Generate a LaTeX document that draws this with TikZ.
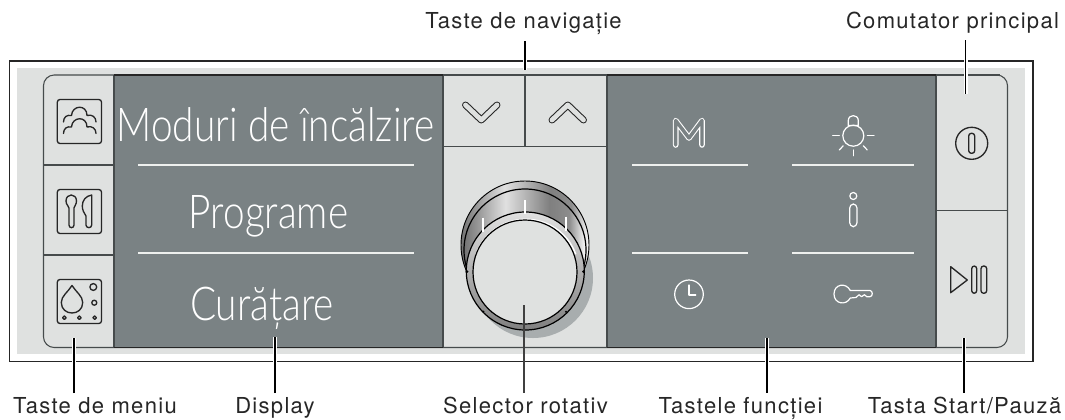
\documentclass[tikz,border=0pt]{standalone}
\usepackage{fontspec}
\setmainfont{TeX Gyre Heros}
\newfontfamily\labelfont[LetterSpace=6]{TeX Gyre Heros}
\newfontfamily\dispfont[FakeStretch=0.83,UprightFont=* Light]{Lato}
\usepackage{xcolor}
\definecolor{panelLight}{RGB}{223, 225, 224}
\definecolor{panelDark}{RGB}{122, 130, 132}
\definecolor{edgeGray}{RGB}{70, 75, 76}
\definecolor{shadowGray}{RGB}{168, 173, 174}
\definecolor{lineWhite}{RGB}{238, 240, 238}
\pgfdeclarehorizontalshading{knobBand}{100bp}{
  color(0bp)=(black!55); color(25bp)=(black!55); color(42bp)=(black!12);
  color(60bp)=(black!50); color(68bp)=(black!45); color(75bp)=(white); color(100bp)=(white)}
\begin{document}
\begin{tikzpicture}[x=0.75pt, y=-0.75pt,
    every node/.style={inner sep=0pt},
    callout/.style={font=\labelfont\fontsize{16.5}{18}\selectfont, text=black!85, inner xsep=3pt, anchor=base},
    topcallout/.style={callout, inner ysep=5pt},
    lowcallout/.style={callout, inner ysep=3pt},
    disptext/.style={font=\dispfont\fontsize{35}{38}\selectfont, text=white, anchor=base},
    leader/.style={draw=black, line width=1pt, preaction={draw=white, line width=3pt}},
    divider/.style={draw=edgeGray, line width=0.8pt},
    rowline/.style={draw=lineWhite, line width=0.8pt},
    iconbox/.style={draw=black!85, line width=1pt, rounded corners=2pt},
    icondark/.style={draw=black!85, line width=1pt, line join=round, line cap=round},
    iconwhite/.style={draw=white, line width=0.9pt, line join=round, line cap=round},
    outlinedark/.style={draw=black!85, line width=0.8pt, double=panelLight, double distance=3.6pt, line join=round, line cap=round},
    outlinewhite/.style={draw=white, line width=0.8pt, double=panelDark, double distance=2.6pt, line join=round, line cap=round},
]
\useasboundingbox (0,0) rectangle (1065,419);
\draw[black!85, line width=1pt] (9.5,61) rectangle (1033,361.5);
\fill[panelLight] (17,68) rectangle (1025,354);
\draw[divider, rounded corners=8pt] (43.5,75) rectangle (1007.5,347.5);
\fill[panelDark] (114,75) rectangle (443,347.5);
\fill[panelDark] (607,75) rectangle (936,347.5);
\draw[divider] (114,75) -- (114,347.5);
\draw[divider] (443,75) -- (443,347.5);
\draw[divider] (607,75) -- (607,347.5);
\draw[divider] (936,75) -- (936,347.5);
\draw[black!85, line width=1.1pt] (114,75) -- (443,75);
\draw[black!85, line width=1.1pt] (607,75) -- (936,75);
\draw[black!85, line width=0.8pt] (114,347.5) -- (443,347.5);
\draw[black!85, line width=0.8pt] (607,347.5) -- (936,347.5);
\draw[divider] (443,75) -- (607,75);
\draw[divider] (936,75) -- (1000,75);
\draw[divider] (43.5,165) -- (114,165);
\draw[divider] (43.5,255) -- (114,255);
\draw[divider] (936,210.7) -- (1007.5,210.7);
\draw[divider] (525,75) -- (525,146.7);
\draw[divider] (443,146.7) -- (607,146.7);
\draw[rowline] (138,165) -- (414,165);
\draw[rowline] (138,253) -- (414,253);
\draw[rowline] (632,165) -- (748,165);
\draw[rowline] (632,253) -- (748,253);
\draw[rowline] (792,165) -- (914,165);
\draw[rowline] (792,253) -- (914,253);
\node[disptext] (modes) at (275.5,141.7) {Moduri de încălzire};
\node[disptext] (progs) at (268.5,228) {Programe};
\node[disptext] (clean) at (262,320.7) {Curățare};
\draw[iconbox] (57.3,99.5) rectangle (101.5,143.5);
\draw[icondark] (63.5,122) .. controls (63.5,117) and (67,114.5) .. (71.5,115.5) .. controls (72,105) and (87,104) .. (87,115.5) .. controls (92,114) and (96,117) .. (96,122);
\draw[icondark] (63.5,133.5) .. controls (63.5,128.5) and (67,126) .. (71.5,127) .. controls (72,116.5) and (87,115.5) .. (87,127) .. controls (92,125.5) and (96,128.5) .. (96,133.5);
\draw[iconbox] (57.3,189.5) rectangle (101.5,233.5);
\draw[icondark] (69,208) -- (69,225) .. controls (69,228.5) and (74,228.5) .. (74,225) -- (74,208) .. controls (74,206) and (76.5,205) .. (76.5,201) .. controls (76.5,193) and (66,193) .. (66,201) .. controls (66,205) and (69,206) .. (69,208) -- cycle;
\draw[icondark] (91.7,195) -- (91.7,225) .. controls (91.7,228.5) and (86,228.5) .. (86,225) -- (86,216) .. controls (84,213) and (82.3,210) .. (82.3,206) .. controls (82.3,200) and (86,196) .. (91.7,195) -- cycle;
\draw[iconbox] (57.3,279.5) rectangle (101.5,323.5);
\draw[icondark] (72,285.5) .. controls (76,292) and (82.7,296) .. (82.7,302.5) .. controls (82.7,316.5) and (61.3,316.5) .. (61.3,302.5) .. controls (61.3,296) and (68,292) .. (72,285.5) -- cycle;
\draw[icondark] (93.3,287) circle[radius=3.4];
\draw[icondark] (94.3,302.7) circle[radius=2.5];
\draw[icondark] (64.3,317.7) circle[radius=1.8];
\draw[icondark] (79.3,317.7) circle[radius=1.8];
\draw[icondark] (94.7,317.7) circle[radius=1.8];
\draw[outlinedark] (465.5,105) -- (481.3,120) -- (497,105);
\draw[outlinedark] (552,120) -- (567.8,105) -- (583.5,120);
\fill[shadowGray] (533,278) circle[radius=60];
\shade[shading=knobBand, draw=black, line width=0.7pt] (525,245) circle[radius=64];
\shade[shading=knobBand, draw=black, line width=0.9pt] (525,250) circle[radius=61];
\shade[top color=black!12, bottom color=black!50, draw=black, line width=0.9pt] (525.3,271) circle[radius=59];
\fill[black] (467,271.7) circle[radius=1.5];
\fill[black] (583.5,271.7) circle[radius=1.5];
\fill[black] (483.3,311.7) circle[radius=1.2];
\fill[black] (566,311.7) circle[radius=1.2];
\draw[white, line width=1.2pt] (476.1,254.2) arc[start angle=200, end angle=340, radius=53];
\fill[panelLight] (525,272) circle[radius=52];
\draw[black, line width=0.9pt] (525,272) circle[radius=52];
\draw[white, line width=1.3pt] (525,200) -- (525,214.3);
\draw[white, line width=1.3pt] (483.3,217.7) -- (483.3,232.3);
\draw[white, line width=1.3pt] (566,216.7) -- (566,231);
\draw[outlinewhite] (675.7,145) -- (675.7,120.5) -- (689,138) -- (702,120.5) -- (702,145);
\draw[iconwhite] (853.3,135.7) circle[radius=10.5];
\draw[iconwhite] (848.3,125.5) -- (848.3,120.5) .. controls (848.3,114) and (858.3,114) .. (858.3,120.5) -- (858.3,125.5) -- cycle;
\draw[iconwhite] (832.7,135.7) -- (839.3,135.7);
\draw[iconwhite] (867.3,135.7) -- (874,135.7);
\draw[iconwhite] (839.3,150) -- (843.3,145.7);
\draw[iconwhite] (867.3,150) -- (863.3,145.7);
\draw[iconwhite] (853.3,150) -- (853.3,155.7);
\draw[iconwhite] (853.3,196) circle[radius=3.5];
\draw[iconwhite, rounded corners=3pt] (849.7,204) rectangle (857,226.7);
\draw[iconwhite] (689,294.3) circle[radius=14.3];
\draw[iconwhite] (689,285) -- (689,295) -- (695.7,295);
\draw[iconwhite] (850.3,290.5) -- (870,290.5) .. controls (873,290.5) and (873,296.7) .. (870,296.7) -- (866.7,296.7) -- (864.5,294.7) -- (861.5,296.7) -- (859,294.7) -- (856,297.5) -- (850.3,298) .. controls (846,306) and (834,304) .. (834,294) .. controls (834,284) and (846,282) .. (850.3,290.5) -- cycle;
\draw[icondark] (971.7,143.3) circle[radius=16];
\draw[icondark, rounded corners=2pt] (968.7,133.3) rectangle (974.7,153.3);
\draw[icondark] (950.7,266.7) -- (950.7,292.7) -- (967.3,280) -- cycle;
\draw[icondark, rounded corners=2pt] (971.7,266) rectangle (976.7,293.3);
\draw[icondark, rounded corners=2pt] (981,266) rectangle (986.7,293.3);
\node[topcallout] (navLabel) at (523.5,28.3) {Taste de navigație};
\node[topcallout] (mainLabel) at (952.5,28.3) {Comutator principal};
\node[lowcallout] (menuLabel) at (95,413.3) {Taste de meniu};
\node[lowcallout] (dispLabel) at (275,413.3) {Display};
\node[lowcallout] (knobLabel) at (525.5,413.3) {Selector rotativ};
\node[lowcallout] (funcLabel) at (740.5,413.3) {Tastele funcției};
\node[lowcallout] (startLabel) at (964.5,413.3) {Tasta Start/Pauză};
\coordinate (navEnd) at (525,70);
\coordinate (mainEnd) at (965.7,94);
\coordinate (menuEnd) at (74,338);
\coordinate (dispEnd) at (275,337);
\coordinate (knobEnd) at (524,305);
\coordinate (funcEnd) at (767,338);
\coordinate (startEnd) at (964,338);
\draw[leader] (navLabel.south -| navEnd) -- (navEnd);
\draw[leader] (mainLabel.south -| mainEnd) -- (mainEnd);
\draw[leader] (menuLabel.north -| menuEnd) -- (menuEnd);
\draw[leader] (dispLabel.north -| dispEnd) -- (dispEnd);
\draw[draw=black!75, line width=0.9pt] (knobLabel.north -| knobEnd) -- (knobEnd);
\draw[leader] (funcLabel.north -| funcEnd) -- (funcEnd);
\draw[leader] (startLabel.north -| startEnd) -- (startEnd);
\end{tikzpicture}
\end{document}
